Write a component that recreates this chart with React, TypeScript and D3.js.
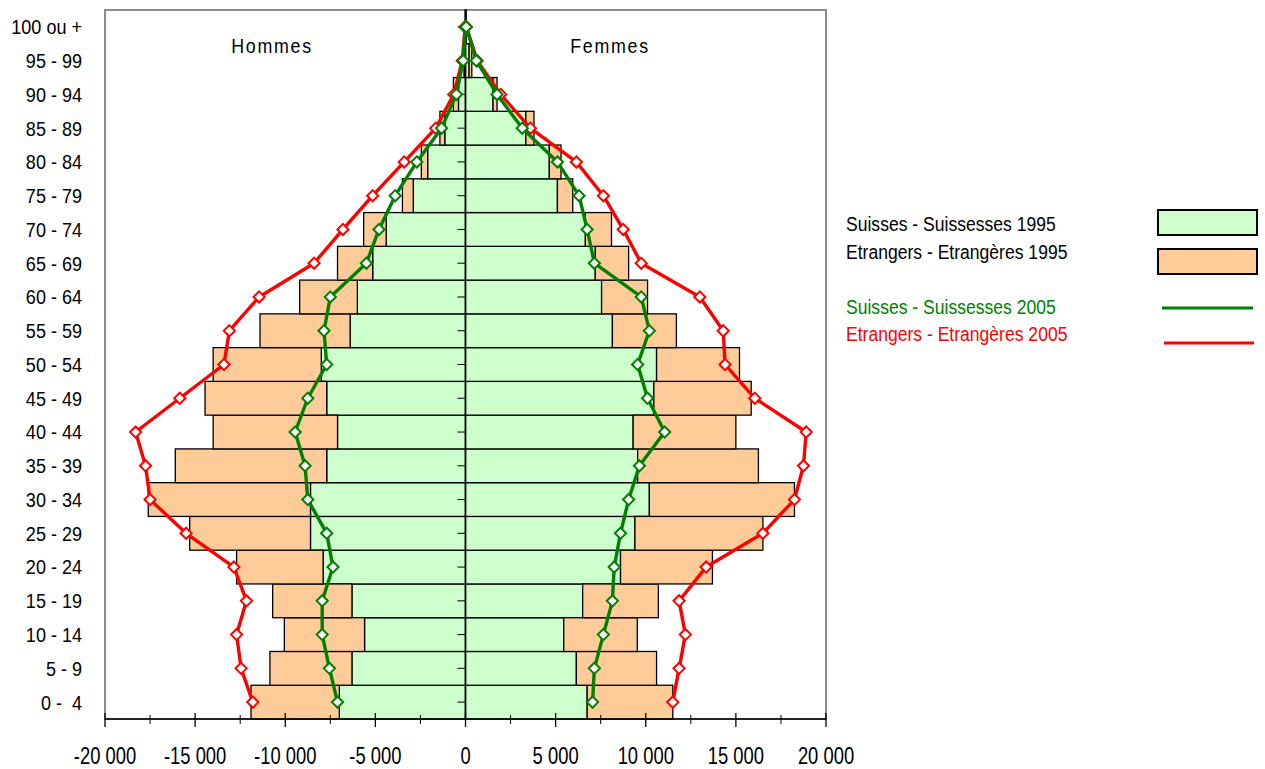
// React
import { useEffect, useRef } from 'react';

// Installed Packages
import * as d3 from 'd3';

// Age groups, from the bottom of the pyramid to the top
const ageGroups = ["0 -  4", "5 - 9", "10 - 14", "15 - 19", "20 - 24", "25 - 29", "30 - 34", "35 - 39", "40 - 44", "45 - 49", "50 - 54", "55 - 59", "60 - 64", "65 - 69", "70 - 74", "75 - 79", "80 - 84", "85 - 89", "90 - 94", "95 - 99", "100 ou +"];

// 1995 (bars, stacked: Swiss then foreigners)
const menSwiss1995 = [7000, 6300, 5600, 6300, 7900, 8600, 8600, 7700, 7100, 7700, 8000, 6400, 6000, 5150, 4400, 2900, 2100, 1150, 390, 60, 5];
const menForeign1995 = [4900, 4550, 4450, 4400, 4800, 6700, 9000, 8400, 6900, 6750, 6000, 5000, 3200, 1950, 1250, 600, 350, 270, 280, 20, 2];
const womenSwiss1995 = [6750, 6150, 5450, 6500, 8600, 9400, 10200, 9550, 9300, 10450, 10600, 8150, 7550, 7200, 6650, 5100, 4650, 3350, 1530, 200, 20];
const womenForeign1995 = [4750, 4450, 4080, 4200, 5100, 7100, 8050, 6700, 5700, 5400, 4600, 3550, 2550, 1850, 1450, 850, 650, 450, 220, 150, 5];

// 2005 (lines, foreigners stacked on Swiss)
const menSwiss2005 = [7100, 7550, 7950, 7950, 7350, 7700, 8750, 8900, 9450, 8750, 7700, 7850, 7500, 5500, 4800, 3900, 2700, 1330, 500, 130, 15];
const menForeign2005 = [4700, 4900, 4750, 4200, 5500, 7800, 8750, 8850, 8850, 7100, 5700, 5250, 3950, 2900, 2000, 1250, 700, 320, 150, 50, 5];
const womenSwiss2005 = [7050, 7150, 7650, 8150, 8250, 8600, 9050, 9650, 11050, 10100, 9550, 10200, 9750, 7150, 6750, 6300, 5100, 3150, 1750, 600, 40];
const womenForeign2005 = [4450, 4700, 4550, 3700, 5100, 7900, 9200, 9100, 7850, 5950, 4850, 4100, 3250, 2600, 2000, 1350, 1050, 450, 200, 50, 10];

const xTicks = [-20000, -15000, -10000, -5000, 0, 5000, 10000, 15000, 20000];
const xMinorTicks = [-17500, -12500, -7500, -2500, 2500, 7500, 12500, 17500];

const legendItems = ["Suisses - Suissesses 1995", "Etrangers - Etrangères 1995", "Suisses - Suissesses 2005", "Etrangers - Etrangères 2005"];

// Arial-metric font, squeezed horizontally to look like Arial Narrow
const FONT = "'Liberation Sans', Arial, sans-serif";
const GREEN_FILL = "#CCFFCC";
const ORANGE_FILL = "#FFCC99";
const GREEN = "#008000";
const RED = "#FF0000";

export default function App() {

    let ref = useRef<SVGSVGElement>(null);

    useEffect(() => {

        const svg = d3.select(ref.current);
        svg.selectAll("*").remove();

        const plot = { left: 105, right: 826, top: 10, bottom: 719 };

        const x = d3.scaleLinear().domain([-20000, 20000]).range([plot.left, plot.right]);
        const y = d3.scaleBand().domain([...ageGroups].reverse()).range([plot.top, plot.bottom]).padding(0);
        const yc = (a: string) => y(a)! + y.bandwidth() / 2;

        // Squeezed text placed at (px, py)
        const narrow = (px: number, py: number, sx: number) => `translate(${px},${py}) scale(${sx},1)`;

        // Plot frame
        svg.append("rect")
            .attr("x", plot.left).attr("y", plot.top)
            .attr("width", plot.right - plot.left).attr("height", plot.bottom - plot.top)
            .attr("fill", "white").attr("stroke", "#8c8c8c").attr("stroke-width", 2);

        // Bars 1995
        const bars = svg.append("g").attr("stroke", "black").attr("stroke-width", 1.3);
        const stacks = [
            { sign: -1, swiss: menSwiss1995, foreign: menForeign1995 },
            { sign: 1, swiss: womenSwiss1995, foreign: womenForeign1995 },
        ];
        stacks.forEach(s => {
            bars.selectAll(null)
                .data(ageGroups)
                .join("rect")
                .attr("x", (d, i) => Math.min(x(0), x(s.sign * s.swiss[i])))
                .attr("width", (d, i) => Math.abs(x(s.sign * s.swiss[i]) - x(0)))
                .attr("y", d => y(d)!)
                .attr("height", y.bandwidth())
                .attr("fill", GREEN_FILL);
            bars.selectAll(null)
                .data(ageGroups)
                .join("rect")
                .attr("x", (d, i) => Math.min(x(s.sign * s.swiss[i]), x(s.sign * (s.swiss[i] + s.foreign[i]))))
                .attr("width", (d, i) => Math.abs(x(s.sign * (s.swiss[i] + s.foreign[i])) - x(s.sign * s.swiss[i])))
                .attr("y", d => y(d)!)
                .attr("height", y.bandwidth())
                .attr("fill", ORANGE_FILL);
        });

        // Zero axis with category ticks
        svg.append("line")
            .attr("x1", x(0)).attr("x2", x(0)).attr("y1", plot.top).attr("y2", plot.bottom)
            .attr("stroke", "black").attr("stroke-width", 1.5);
        svg.append("g").selectAll("line")
            .data(ageGroups)
            .join("line")
            .attr("x1", x(0) - 8).attr("x2", x(0))
            .attr("y1", d => yc(d)).attr("y2", d => yc(d))
            .attr("stroke", "black").attr("stroke-width", 1);

        // Bottom axis
        const axis = svg.append("g");
        axis.append("line")
            .attr("x1", plot.left).attr("x2", plot.right).attr("y1", plot.bottom).attr("y2", plot.bottom)
            .attr("stroke", "black").attr("stroke-width", 1.5);
        axis.selectAll("line.major")
            .data(xTicks)
            .join("line")
            .attr("class", "major")
            .attr("x1", d => x(d)).attr("x2", d => x(d))
            .attr("y1", plot.bottom - 6).attr("y2", plot.bottom + 8)
            .attr("stroke", "black").attr("stroke-width", 1.3);
        axis.selectAll("line.minor")
            .data(xMinorTicks)
            .join("line")
            .attr("class", "minor")
            .attr("x1", d => x(d)).attr("x2", d => x(d))
            .attr("y1", plot.bottom - 4).attr("y2", plot.bottom + 5)
            .attr("stroke", "black").attr("stroke-width", 1);
        axis.selectAll("text")
            .data(xTicks)
            .join("text")
            .attr("transform", d => narrow(x(d), 764, 0.8))
            .attr("text-anchor", "middle")
            .style("font-family", FONT).style("font-size", "23px")
            .text(d => d3.format(",")(d).replace(/,/g, " ").replace("−", "-"));

        // Age labels
        svg.append("g").selectAll("text")
            .data(ageGroups)
            .join("text")
            .attr("transform", d => narrow(82, yc(d), 0.88))
            .attr("dy", "0.36em")
            .attr("text-anchor", "end")
            .style("white-space", "pre")
            .style("font-family", FONT).style("font-size", "20.5px")
            .text(d => d);

        // Lines 2005 (red drawn first, green on top)
        const line = d3.line<[number, number]>().x(d => d[0]).y(d => d[1]);
        const series = [
            { color: RED, men: menSwiss2005.map((v, i) => v + menForeign2005[i]), women: womenSwiss2005.map((v, i) => v + womenForeign2005[i]) },
            { color: GREEN, men: menSwiss2005, women: womenSwiss2005 },
        ];
        const diamond = d3.symbol().type(d3.symbolDiamond2).size(80);
        series.forEach(s => {
            [{ sign: -1, vals: s.men }, { sign: 1, vals: s.women }].forEach(side => {
                const pts: [number, number][] = ageGroups.map((a, i) => [x(side.sign * side.vals[i]), yc(a)]);
                svg.append("path")
                    .attr("d", line(pts))
                    .attr("fill", "none").attr("stroke", s.color).attr("stroke-width", 3.4)
                    .attr("stroke-linejoin", "round");
                svg.append("g").selectAll("path")
                    .data(pts)
                    .join("path")
                    .attr("d", diamond)
                    .attr("transform", d => `translate(${d[0]},${d[1]})`)
                    .attr("fill", "white").attr("stroke", s.color).attr("stroke-width", 2);
            });
        });

        // Side titles
        [{ t: "Hommes", cx: 272 }, { t: "Femmes", cx: 610 }].forEach(o => {
            svg.append("text")
                .attr("transform", narrow(o.cx, 53, 0.85))
                .attr("text-anchor", "middle")
                .style("letter-spacing", "2px")
                .style("font-family", FONT).style("font-size", "21px")
                .text(o.t);
        });

        // Legend
        const legendY = [224, 252, 307, 334];
        const legendColors = ["black", "black", GREEN, RED];
        svg.append("g").selectAll("text")
            .data(legendItems)
            .join("text")
            .attr("transform", (d, i) => narrow(846, legendY[i], 0.9))
            .attr("dy", "0.36em")
            .attr("fill", (d, i) => legendColors[i])
            .style("font-family", FONT).style("font-size", "19.5px")
            .text(d => d);
        [GREEN_FILL, ORANGE_FILL].forEach((c, i) => {
            svg.append("rect")
                .attr("x", 1158).attr("y", 210 + i * 39)
                .attr("width", 99).attr("height", 25)
                .attr("fill", c).attr("stroke", "black").attr("stroke-width", 2);
        });
        [GREEN, RED].forEach((c, i) => {
            svg.append("line")
                .attr("x1", 1162 + i * 2).attr("x2", 1253 + i * 1)
                .attr("y1", 308 + i * 35).attr("y2", 308 + i * 35)
                .attr("stroke", c).attr("stroke-width", 3);
        });

    }, [])

    return <svg ref={ref} width={1265} height={769} style={{ position: 'absolute', left: 0, top: 0, background: 'white' }}></svg>
}
